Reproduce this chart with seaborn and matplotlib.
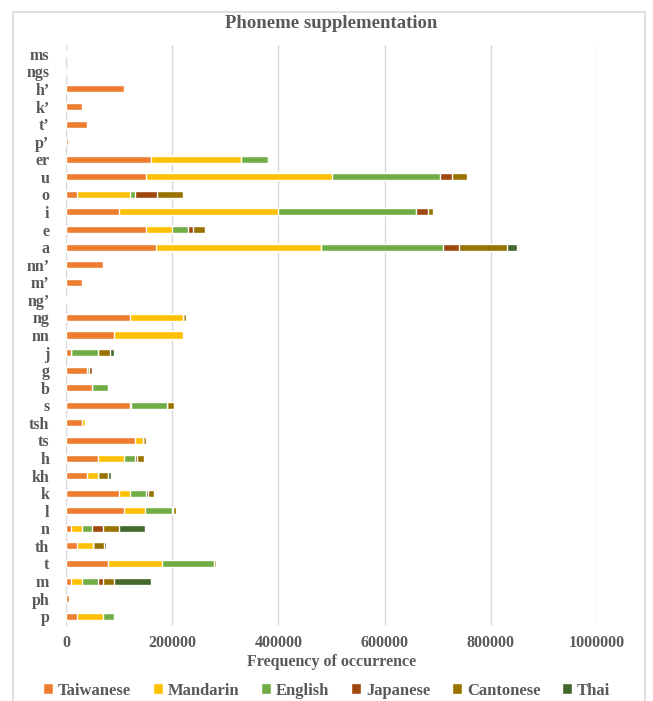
import matplotlib
matplotlib.use("Agg")
import matplotlib.pyplot as plt
import seaborn as sns
import pandas as pd
from matplotlib.patches import Rectangle

# phonemes, top to bottom as shown
phonemes = ["ms", "ngs", "h’", "k’", "t’", "p’", "er", "u", "o", "i", "e", "a",
            "nn’", "m’", "ng’", "ng", "nn", "j", "g", "b", "s", "tsh", "ts", "h",
            "kh", "k", "l", "n", "th", "t", "m", "ph", "p"]

taiwanese = [0, 0, 110000, 30000, 40000, 3000, 160000, 150000, 20000, 100000, 150000, 170000,
             70000, 30000, 1000, 120000, 90000, 10000, 40000, 49000, 120000, 30000, 130000, 60000,
             40000, 100000, 110000, 10000, 20000, 80000, 10000, 5000, 20000]
mandarin = [0, 0, 0, 0, 0, 0, 170000, 350000, 100000, 300000, 50000, 310000,
            0, 0, 0, 100000, 130000, 0, 0, 0, 2000, 5000, 15000, 50000,
            20000, 20000, 39000, 20000, 30000, 100000, 20000, 0, 50000]
english = [0, 0, 1500, 1000, 1000, 1000, 50000, 205000, 10000, 260000, 30000, 230000,
           1000, 1000, 1000, 1000, 0, 50000, 4000, 30000, 69000, 0, 0, 20000,
           0, 30000, 51000, 19000, 0, 99000, 30000, 3000, 20000]
japanese = [0, 0, 0, 0, 0, 0, 0, 21000, 41000, 21000, 10000, 30000,
            0, 0, 0, 0, 0, 0, 5000, 0, 0, 0, 0, 4000,
            0, 5000, 2000, 21000, 0, 0, 10000, 0, 1000]
cantonese = [0, 0, 0, 0, 0, 0, 0, 29000, 50000, 10000, 21000, 90000,
             0, 0, 0, 5000, 0, 22000, 0, 2000, 12000, 2000, 6000, 12000,
             20000, 11000, 6000, 30000, 21000, 3000, 20000, 0, 0]
thai = [0, 0, 0, 0, 0, 0, 0, 2000, 0, 1000, 0, 20000,
        0, 0, 0, 0, 0, 9000, 0, 0, 0, 0, 0, 3000,
        5000, 0, 0, 49000, 5000, 0, 70000, 0, 0]

languages = ["Taiwanese", "Mandarin", "English", "Japanese", "Cantonese", "Thai"]
colors = ["#ED7D31", "#FFC000", "#70AD47", "#9E480E", "#997300", "#43682B"]

df = pd.DataFrame({"phoneme": phonemes, "Taiwanese": taiwanese, "Mandarin": mandarin,
                   "English": english, "Japanese": japanese, "Cantonese": cantonese,
                   "Thai": thai})
cum = df[languages].cumsum(axis=1)
cum["phoneme"] = phonemes

txt = "#595959"
serif = ["Liberation Serif", "DejaVu Serif"]
sns.set_style("white")
plt.rcParams["font.family"] = serif

fig = plt.figure(figsize=(6.53, 7.01), dpi=100)
fig.patches.append(Rectangle((13 / 653, -0.01), (645 - 13) / 653, 1.001 - 6 / 701,
                             transform=fig.transFigure, fill=False,
                             edgecolor="#d9d9d9", linewidth=1.2))
ax = fig.add_axes([66 / 653, 1 - 625 / 701, (597 - 66) / 653, (625 - 45) / 701])

# stacked bars: draw cumulative totals from the last language back to the first
for lang, col in reversed(list(zip(languages, colors))):
    sns.barplot(data=cum, x=lang, y="phoneme", order=phonemes, color=col,
                width=0.4, saturation=1, ax=ax, label=lang, zorder=3)

ax.set_xlim(0, 1000000)
ax.set_xticks([0, 200000, 400000, 600000, 800000, 1000000])
ax.set_xticklabels(["0", "200000", "400000", "600000", "800000", "1000000"])
ax.grid(axis="x", color="#d9d9d9", linewidth=1, zorder=0)
ax.set_axisbelow(True)
for s in ["top", "right", "bottom"]:
    ax.spines[s].set_visible(False)
ax.spines["left"].set_color("#d9d9d9")
ax.tick_params(axis="y", length=0, labelcolor=txt, labelsize=11.5, pad=12)
ax.tick_params(axis="x", length=0, labelcolor=txt, labelsize=11.5, pad=7)
for lab in ax.get_xticklabels() + ax.get_yticklabels():
    lab.set_fontweight("bold")
ax.set_ylabel("")
ax.set_xlabel("Frequency of occurrence", fontsize=11.5, fontweight="bold", color=txt, labelpad=2)
ax.set_title("Phoneme supplementation", fontsize=13.5, fontweight="bold", color=txt, pad=12)

handles, labels = ax.get_legend_handles_labels()
ax.get_legend().remove()
order = [labels.index(l) for l in languages]
leg = fig.legend([handles[i] for i in order], languages, loc="lower center",
                 bbox_to_anchor=(0.5, -0.018), ncol=6, frameon=False, handlelength=0.6,
                 handleheight=0.6, handletextpad=0.3, columnspacing=1.3,
                 prop={"weight": "bold", "size": 12})
for t in leg.get_texts():
    t.set_color(txt)

fig.savefig("out.png", dpi=100)
